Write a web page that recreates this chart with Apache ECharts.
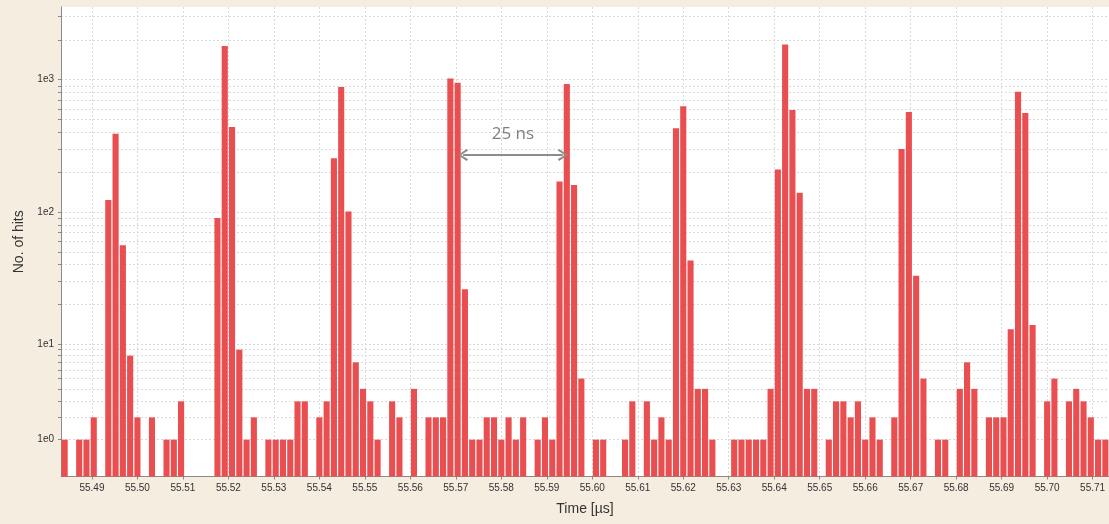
<!DOCTYPE html>
<html><head><meta charset="utf-8">
<script src="https://cdn.jsdelivr.net/npm/echarts@6/dist/echarts.min.js"></script>
<style>html,body{margin:0;padding:0;background:#f4ede0;} #c{width:1109px;height:524px;}</style>
</head><body><div id="c"></div>
<script>
// Histogram bins (µs): bin i spans binStart + i*binWidth .. +binWidth
const binStart = 55.4832;
const binWidth = 0.0016;
const binCount = 144;
// Hits per bin (0 = empty bin)
const counts = [
  1,0,1,1,2,0,123,390,56,8,
  2,0,2,0,1,1,3,0,0,0,
  0,90,1800,440,9,1,2,0,1,1,
  1,1,3,3,0,2,3,255,880,101,
  7,4,3,1,0,3,2,0,4,0,
  2,2,2,1020,950,26,1,1,2,2,
  1,2,1,2,0,1,2,1,170,930,
  160,5,0,1,1,0,0,1,3,0,
  3,1,2,1,430,630,43,4,4,1,
  0,0,1,1,1,1,1,4,210,1850,
  590,140,4,4,0,1,3,3,2,3,
  1,2,1,0,2,300,570,33,5,0,
  1,1,0,4,7,4,0,2,2,2,
  13,810,560,14,0,3,5,0,3,4,
  3,2,1,1
];
const xTicks = [55.49,55.50,55.51,55.52,55.53,55.54,55.55,55.56,55.57,55.58,55.59,55.60,55.61,55.62,55.63,55.64,55.65,55.66,55.67,55.68,55.69,55.70,55.71];
const yLabelCounts = [1, 10, 100, 1000];
const yLabelText = ['1e0', '1e1', '1e2', '1e3'];
const yGridCounts = [1,2,3,4,5,6,7,8,9,10,20,30,40,50,60,70,80,90,100,200,300,400,500,600,700,800,900,1000,2000,3000];
// annotation: bunch spacing arrow
const arrowFrom = 55.5716, arrowTo = 55.5935, arrowCount = 270, arrowText = '25 ns';

// "adjusted" logarithm used by the original log axis (smooth below 10)
function adjLog(c) { return Math.log10(c < 10 ? c + (10 - c) / 10 : c); }

const yLabelVals = yLabelCounts.map(adjLog);
const barData = counts.map((c, i) => [binStart + (i + 0.5) * binWidth, c > 0 ? adjLog(c) : '-']);

const chart = echarts.init(document.getElementById('c'), null, {renderer: 'canvas'});
const font = '"Liberation Sans", Arial, sans-serif';
chart.setOption({
  backgroundColor: '#f4ede0',
  animation: false,
  grid: {left: 61, right: -5.6, top: 7, bottom: 47.5, show: true, backgroundColor: '#ffffff', borderWidth: 0},
  xAxis: {
    type: 'value', min: binStart, max: binStart + binCount * binWidth,
    name: 'Time [µs]', nameLocation: 'middle', nameGap: 26,
    nameTextStyle: {fontFamily: font, fontSize: 14, color: '#333'},
    axisLine: {show: true, onZero: false, lineStyle: {color: '#8a8a8a', width: 1}},
    axisTick: {show: true, customValues: xTicks, length: 3, lineStyle: {color: '#8a8a8a'}},
    axisLabel: {customValues: xTicks, formatter: v => v.toFixed(2), fontFamily: font, fontSize: 10, color: '#333', margin: 7},
    splitLine: {show: true, lineStyle: {color: '#dadada', type: [2, 2], width: 1}}
  },
  yAxis: {
    type: 'value', min: 0, max: 3.55,
    name: 'No. of hits', nameLocation: 'middle', nameGap: 27,
    nameTextStyle: {fontFamily: font, fontSize: 14, color: '#333'},
    axisLine: {show: true, lineStyle: {color: '#8a8a8a', width: 1}},
    axisTick: {show: true, customValues: yGridCounts.map(adjLog), length: 3, lineStyle: {color: '#8a8a8a'}},
    axisLabel: {
      customValues: yLabelVals, fontFamily: font, fontSize: 10, color: '#333', margin: 7,
      formatter: v => {
        let best = 0;
        yLabelVals.forEach((lv, k) => { if (Math.abs(lv - v) < Math.abs(yLabelVals[best] - v)) best = k; });
        return yLabelText[best];
      }
    },
    splitLine: {show: true, lineStyle: {color: '#dadada', type: [2, 2], width: 1}}
  },
  series: [{
    type: 'bar',
    data: barData,
    barWidth: '84%',
    itemStyle: {color: '#e94f50'},
    markLine: {
      silent: true,
      symbol: ['path://M5,0 L10,8 L8.6,9.4 L5,2.8 L1.4,9.4 L0,8 Z', 'path://M5,0 L10,8 L8.6,9.4 L5,2.8 L1.4,9.4 L0,8 Z'],
      symbolSize: [12, 10],
      lineStyle: {color: '#8c8c8c', width: 2, type: 'solid'},
      label: {show: true, position: 'insideMiddleTop', formatter: arrowText, distance: 12,
              fontFamily: '"Open Sans", "Noto Sans", sans-serif', fontSize: 17, color: '#7f7f7f'},
      data: [[{coord: [arrowFrom, adjLog(arrowCount)]}, {coord: [arrowTo, adjLog(arrowCount)]}]]
    }
  }]
});
</script></body></html>
